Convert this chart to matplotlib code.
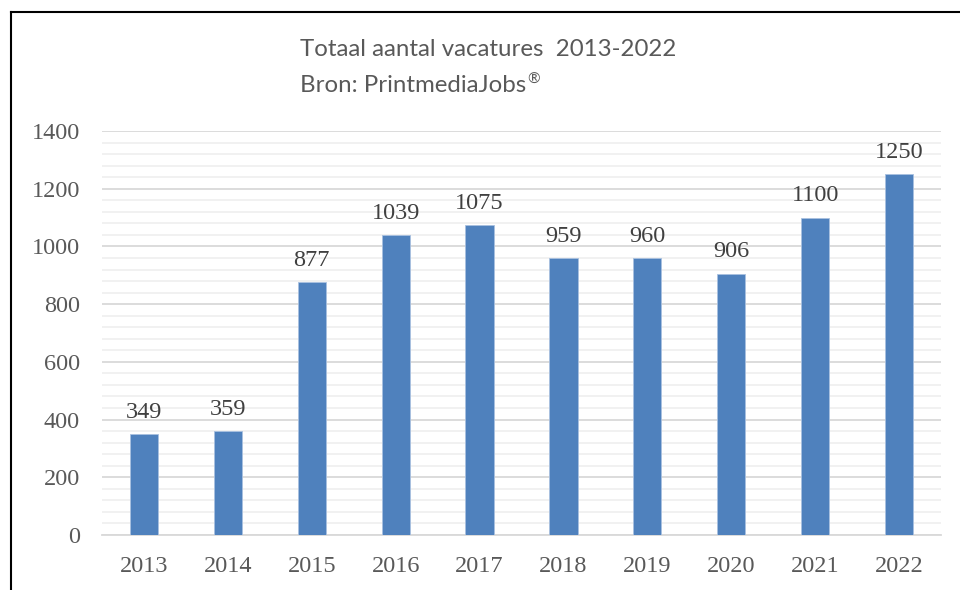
import matplotlib
matplotlib.use("Agg")
import matplotlib.pyplot as plt
from matplotlib.ticker import MultipleLocator
from matplotlib.lines import Line2D

years = ["2013", "2014", "2015", "2016", "2017", "2018", "2019", "2020", "2021", "2022"]
values = [349, 359, 877, 1039, 1075, 959, 960, 906, 1100, 1250]
title_line1 = "Totaal aantal vacatures  2013-2022"
title_line2 = "Bron: PrintmediaJobs"
title_mark = "®"

W, H = 960, 590
fig = plt.figure(figsize=(W / 100, H / 100), dpi=100)
ax = fig.add_axes([102 / W, 1 - 535 / H, (941 - 102) / W, (535 - 131) / H])

x = list(range(len(years)))
ax.bar(x, values, width=0.335, color="#4F81BD", edgecolor="#A9C1E0", linewidth=0.6, zorder=3)
ax.set_xlim(-0.5, len(years) - 0.5)
ax.set_ylim(0, 1400)
ax.yaxis.set_major_locator(MultipleLocator(200))
ax.yaxis.set_minor_locator(MultipleLocator(40))
ax.grid(which="major", axis="y", color="#D9D9D9", linewidth=1.3, zorder=0)
ax.grid(which="minor", axis="y", color="#F0F0F0", linewidth=1.3, zorder=0)
for s in ["top", "right", "left"]:
    ax.spines[s].set_visible(False)
ax.spines["bottom"].set_color("#D9D9D9")
ax.spines["bottom"].set_linewidth(1.3)
ax.tick_params(which="both", length=0)
ax.set_xticks(x)
ax.set_xticklabels(years)
serif = ["Liberation Serif", "DejaVu Serif"]
for lab in ax.get_xticklabels() + ax.get_yticklabels():
    lab.set_family(serif)
    lab.set_fontsize(17.5)
    lab.set_color("#595959")
ax.tick_params(axis="x", pad=15)
ax.tick_params(axis="y", pad=16)

for xi, v in zip(x, values):
    ax.annotate(str(v), (xi, v), xytext=(0, 8), textcoords="offset points",
                ha="center", va="bottom", fontsize=17.5, family=serif, color="#404040")

fig.text(300 / W, 1 - 50 / H, title_line1, fontsize=17.3, family="Lato", color="#595959", va="center", ha="left")
t2 = fig.text(300 / W, 1 - 85 / H, title_line2, fontsize=17.3, family="Lato", color="#595959", va="center", ha="left")
r = fig.canvas.get_renderer()
bb = t2.get_window_extent(renderer=r)
fig.text((bb.x1 + 1) / W, 1 - 80 / H, title_mark, fontsize=11, family="Lato", color="#595959", va="center", ha="left")

# chart border (left and top visible)
fig.add_artist(Line2D([11 / W, 11 / W], [0, 1 - 12 / H], transform=fig.transFigure, color="black", linewidth=1.5))
fig.add_artist(Line2D([11 / W, 1], [1 - 12 / H, 1 - 12 / H], transform=fig.transFigure, color="black", linewidth=1.5))

fig.savefig("out.png", dpi=100)
